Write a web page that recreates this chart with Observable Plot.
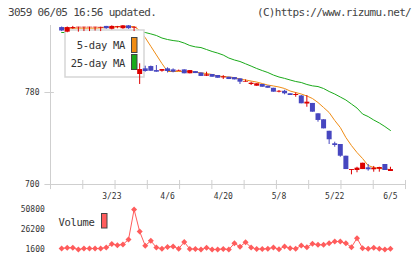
<!DOCTYPE html>
<html><head><meta charset="utf-8">
<script src="https://cdn.jsdelivr.net/npm/d3@7"></script>
<script src="https://cdn.jsdelivr.net/npm/@observablehq/plot@0.6"></script>
<style>
html,body{margin:0;padding:0;background:#fff;}
body{width:420px;height:259px;overflow:hidden;position:relative;font-family:"DejaVu Sans Mono",monospace;}
.abs{position:absolute;white-space:nowrap;}
.hdr{font-size:11px;letter-spacing:-0.7px;color:#444;line-height:11px;top:7px;}
</style></head><body>
<div class="abs hdr" style="left:8px;">3059 06/05 16:56 updated.</div>
<div class="abs hdr" style="right:9px;">(C)https://www.rizumu.net/</div>
<div id="price" class="abs" style="left:0;top:20px"></div>
<div id="vol" class="abs" style="left:0;top:200px"></div>
<script>
// ---- data ----
const open = [
836.5, 832.5, 835.5, 836.3, 836.3, 836.3, 836.3, 836.0, 837.5, 835.0, 836.5, 835.5, 838.0, 836.0,
795.7, 800.6, 802.6, 799.1, 798.5, 800.6, 799.7, 798.6, 799.7, 796.3,
798.2, 797.0, 794.2, 795.7, 794.8, 792.7, 793.3, 793.0, 791.9, 789.0,
787.0, 785.5, 787.0, 785.5, 783.7, 780.3, 781.1, 778.9, 777.4, 777.0,
770.0, 770.5, 761.5, 756.3, 746.3, 735.4, 734.8, 724.6, 712.2, 712.2,
713.0, 714.5, 712.8, 713.3, 717.4, 711.3];
const close = [
833.5, 836.5, 836.5, 836.8, 836.8, 836.8, 836.8, 836.7, 835.5, 837.5, 837.2, 838.0, 835.5, 836.8,
800.0, 798.3, 798.5, 797.7, 800.0, 798.3, 797.7, 799.2, 796.3, 799.1,
796.5, 794.0, 795.4, 793.3, 792.4, 793.6, 791.3, 791.0, 789.0, 789.6,
788.1, 787.6, 784.6, 783.7, 780.3, 781.1, 778.9, 777.4, 778.3, 770.2,
771.6, 762.9, 755.7, 748.4, 738.9, 733.9, 724.6, 713.0, 713.0, 714.2,
718.5, 712.8, 714.2, 714.8, 712.2, 713.0];
const high = [
837.0, 837.0, 837.5, 836.8, 836.8, 836.8, 836.8, 836.8, 837.5, 838.0, 837.5, 838.2, 838.2, 837.0,
805.0, 802.9, 803.0, 803.5, 800.0, 801.5, 800.6, 799.5, 799.7, 799.1,
798.2, 797.0, 797.7, 795.7, 794.8, 794.7, 793.3, 793.0, 791.9, 791.0,
789.0, 787.6, 787.0, 785.5, 783.7, 781.7, 782.0, 778.9, 779.7, 777.4,
777.4, 770.5, 761.5, 756.3, 746.3, 736.8, 734.8, 724.6, 713.0, 715.0,
718.5, 717.4, 715.7, 715.0, 717.4, 715.0];
const low = [
833.0, 832.0, 835.0, 832.5, 833.0, 833.0, 833.5, 833.0, 835.0, 834.5, 835.5, 835.0, 835.0, 833.0,
787.0, 797.7, 798.5, 797.7, 797.7, 797.0, 797.1, 798.3, 796.3, 796.3,
796.5, 794.0, 793.9, 793.3, 792.4, 791.3, 791.3, 791.0, 787.0, 789.0,
786.1, 785.5, 784.6, 783.7, 780.3, 779.7, 778.0, 777.4, 775.9, 770.2,
767.2, 762.9, 754.2, 748.4, 734.8, 732.4, 723.7, 713.0, 708.4, 710.2,
713.0, 711.6, 710.7, 710.7, 712.2, 711.3];
const ma5 = [
836.0, 836.0, 836.0, 836.0, 836.0, 836.0, 836.0, 836.2, 836.5, 836.8, 837.1, 837.3, 837.3, 837.3,
834.1, 827.7, 820.2, 812.7, 805.2, 798.3, 798.3, 798.3, 798.3, 798.3,
797.7, 797.1, 796.5, 795.7, 794.3, 793.9, 793.5, 793.0, 791.7, 790.9,
790.0, 789.1, 787.8, 786.5, 785.7, 784.8, 783.5, 781.3, 780.0, 778.7,
777.0, 774.8, 771.3, 767.0, 762.6, 755.7, 749.6, 740.9, 733.9, 727.8,
722.6, 716.5, 714.8, 713.9, 713.5, 713.0];
const ma25 = [
832.2, 832.2, 832.2, 832.2, 832.2, 832.2, 832.2, 832.2, 832.2, 832.2, 832.2, 832.2, 832.2, 832.2, 832.2, 832.2,
831.0, 829.6, 827.4, 826.1, 825.2, 824.6, 823.0, 820.9, 819.7, 819.1,
817.4, 815.7, 814.3, 812.6, 810.0, 808.3, 807.0, 805.0, 803.0, 800.9,
799.1, 797.4, 795.2, 793.5, 792.3, 790.9, 789.6, 788.7, 787.0, 785.8,
785.2, 783.5, 780.9, 778.7, 776.1, 773.5, 770.0, 766.5, 761.3, 759.1,
756.1, 753.5, 750.4, 747.0];
const volume = [
2800, 3700, 3700, 1600, 2800, 2800, 2800, 2800, 4100, 8400,
6900, 7800, 13900, 50800, 23700, 6300, 12300, 4100, 2600, 4700,
5300, 2600, 10800, 2200, 2200, 1600, 3700, 1600, 1700, 2200,
1600, 9200, 5000, 10500, 4100, 2200, 2200, 2600, 4100, 1900,
5300, 3200, 2500, 6500, 4400, 8600, 7400, 7400, 9300, 11400,
11400, 9300, 4400, 15500, 3200, 2500, 3700, 2500, 1600, 2500];
const xTickIdx = [9, 19, 29, 39, 49, 59];
const xTickLabels = ["3/23", "4/6", "4/20", "5/8", "5/22", "6/5"];
const priceTicks = [700, 780];
const volTicks = [1600, 26200, 50800];

// ---- styling ----
const RED = "#dc0000", BLUE = "#4646c0", ORANGE = "#f08c14", GREEN = "#1aaa1a", VOLC = "#ff5c5c", GRID = "#cfcfcf";
const xDomain = [-2, 61.7];
const priceDomain = [700, 838.3];
const fontStyle = {fontFamily: "DejaVu Sans Mono", fontSize: "8px", color: "#333", background: "transparent", overflow: "visible"};

const candles = open.map((o, i) => ({i, o, c: close[i], h: high[i], l: low[i], col: close[i] >= o ? RED : BLUE}));
const ma5Data = ma5.map((v, i) => ({i, v}));
const ma25Data = ma25.map((v, i) => ({i, v}));
const volData = volume.map((v, i) => ({i, v}));
const gridX = d3.range(12).map(k => xDomain[0] + k * (xDomain[1] - xDomain[0]) / 11);

const NS = "http://www.w3.org/2000/svg";
function el(tag, attrs, text) {
  const e = document.createElementNS(NS, tag);
  for (const k in attrs) e.setAttribute(k, attrs[k]);
  if (text != null) e.textContent = text;
  return e;
}
function priceLegend() {
  const g = el("g", {});
  g.appendChild(el("rect", {x: 65, y: 10, width: 79, height: 47, fill: "#fff", stroke: "#d6d6d6", "stroke-width": 1.5}));
  const ts = {"text-anchor": "end", "font-size": "10.5px", "letter-spacing": "-0.3px", fill: "#333"};
  g.appendChild(el("text", {...ts, x: 125, y: 29.3}, "5-day MA"));
  g.appendChild(el("text", {...ts, x: 125, y: 46.7}, "25-day MA"));
  g.appendChild(el("rect", {x: 131.5, y: 17.5, width: 5.5, height: 15, fill: ORANGE, stroke: "#444", "stroke-width": 1}));
  g.appendChild(el("rect", {x: 131.5, y: 34.5, width: 5.5, height: 15, fill: GREEN, stroke: "#444", "stroke-width": 1}));
  return g;
}
function volLegend() {
  const g = el("g", {});
  g.appendChild(el("text", {x: 58.5, y: 25.7, "text-anchor": "start", "font-size": "10.5px", "letter-spacing": "-0.3px", fill: "#333"}, "Volume"));
  g.appendChild(el("rect", {x: 101.5, y: 13.5, width: 5.5, height: 14.5, fill: VOLC, stroke: "#444", "stroke-width": 1}));
  return g;
}

const price = Plot.plot({
  width: 420, height: 185,
  marginTop: 5, marginBottom: 21, marginLeft: 50, marginRight: 15,
  x: {domain: xDomain, axis: null},
  y: {domain: priceDomain},
  color: {type: "identity"},
  style: fontStyle,
  marks: [
    Plot.ruleY([700], {stroke: GRID}),
    Plot.ruleX([xDomain[0]], {y1: 695.6, y2: priceDomain[1], stroke: GRID}),
    Plot.ruleX(gridX, {y1: 703.5, y2: 695.6, stroke: GRID}),
    Plot.ruleY(priceTicks, {x1: xDomain[0] - 1, x2: xDomain[0] + 0.7, stroke: GRID}),
    Plot.axisY({ticks: priceTicks, tickSize: 0, tickPadding: 11, tickFormat: d => String(d), fill: "#333", label: null}),
    Plot.text(xTickIdx, {x: d => d, text: (d, i) => xTickLabels[i], frameAnchor: "bottom", dy: 14, fill: "#333"}),
    Plot.line(ma25Data, {x: "i", y: "v", stroke: GREEN, strokeWidth: 1}),
    Plot.line(ma5Data, {x: "i", y: "v", stroke: ORANGE, strokeWidth: 1}),
    priceLegend,
    Plot.ruleX(candles, {x: "i", y1: "l", y2: "h", stroke: "col", strokeWidth: 1}),
    Plot.ruleX(candles, {x: "i", y1: "o", y2: "c", stroke: "col", strokeWidth: 5})
  ]
});
document.getElementById("price").appendChild(price);

const diamond = {draw(ctx, size) { const h = Math.sqrt(size / Math.PI); ctx.moveTo(0, -h); ctx.lineTo(h, 0); ctx.lineTo(0, h); ctx.lineTo(-h, 0); ctx.closePath(); }};
const vol = Plot.plot({
  width: 420, height: 59,
  marginTop: 9, marginBottom: 10, marginLeft: 50, marginRight: 15,
  x: {domain: xDomain, axis: null},
  y: {domain: [1600, 50800]},
  style: fontStyle,
  marks: [
    Plot.axisY({ticks: volTicks, tickSize: 0, tickPadding: 5.7, tickFormat: d => String(d), fill: "#333", label: null}),
    volLegend,
    Plot.line(volData, {x: "i", y: "v", stroke: VOLC, strokeWidth: 1}),
    Plot.dot(volData, {x: "i", y: "v", symbol: diamond, r: 3, fill: VOLC, stroke: "none"})
  ]
});
document.getElementById("vol").appendChild(vol);
</script>
</body></html>
